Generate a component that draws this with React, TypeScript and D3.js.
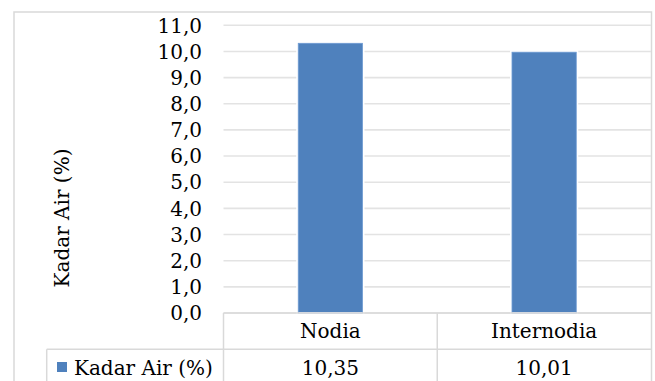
import React from "react";
import * as d3 from "d3";

const categories = ["Nodia", "Internodia"];
const values = [10.35, 10.01];
const valueLabels = ["10,35", "10,01"];
const seriesName = "Kadar Air (%)";
const yTicks = [0, 1, 2, 3, 4, 5, 6, 7, 8, 9, 10, 11];
const yTitle = "Kadar Air (%)";

const W = 655;
const H = 381;
const FONT = "'DejaVu Serif', serif";
const FS = 20;

export default function App() {
  const plotL = 223.5;
  const plotR = 651;
  const y = d3.scaleLinear().domain([0, 11]).range([313, 25.3]);
  const x = d3.scaleBand().domain(categories).range([plotL, plotR]).paddingInner(0.69).paddingOuter(0.345);
  const xc = d3.scaleBand().domain(categories).range([plotL, plotR]);
  const fmt = (v: number) => d3.format(".1f")(v).replace(".", ",");
  const grid = "#d9d9d9";
  const row1 = 313, row2 = 349.3;
  return (
    <svg width={W} height={H} style={{ position: "absolute", left: 0, top: 0, background: "#fff" }}>
      <rect x={14} y={12} width={637.5} height={H + 20} fill="#fff" stroke={grid} strokeWidth={1.5} />
      {yTicks.map((t) => (
        <line key={t} x1={plotL} x2={plotR} y1={y(t)} y2={y(t)} stroke="#e3e3e3" strokeWidth={1.6} />
      ))}
      {categories.map((c, i) => (
        <rect key={c} x={x(c)!} y={y(values[i])} width={x.bandwidth()} height={y(0) - y(values[i])}
          fill="#4f81bd" stroke="#ffffff" strokeWidth={2} />
      ))}
      {categories.map((c, i) => (
        <rect key={c + "i"} x={x(c)! + 1} y={y(values[i]) + 1} width={x.bandwidth() - 2} height={y(0) - y(values[i]) - 1}
          fill="none" stroke="#6e9bd3" strokeWidth={0.8} />
      ))}
      {yTicks.map((t) => (
        <text key={t} x={202} y={y(t)} dy="0.36em" textAnchor="end" fontFamily={FONT} fontSize={FS} fill="#000">{fmt(t)}</text>
      ))}
      <text transform={`translate(69,218) rotate(-90)`} textAnchor="middle" fontFamily={FONT} fontSize={FS} fill="#000">{yTitle}</text>
      {/* data table */}
      <line x1={plotL} x2={plotR} y1={row1} y2={row1} stroke={grid} strokeWidth={1.5} />
      <line x1={46.7} x2={plotR} y1={row2} y2={row2} stroke={grid} strokeWidth={1.5} />
      <line x1={plotL} x2={plotL} y1={row1} y2={H + 5} stroke={grid} strokeWidth={1.5} />
      <line x1={46.7} x2={46.7} y1={row2} y2={H + 5} stroke={grid} strokeWidth={1.5} />
      {categories.slice(1).map((c) => (
        <line key={c} x1={xc(c)!} x2={xc(c)!} y1={row1} y2={H + 5} stroke={grid} strokeWidth={1.5} />
      ))}
      {categories.map((c) => (
        <text key={c} x={xc(c)! + xc.bandwidth() / 2} y={337.5} textAnchor="middle" fontFamily={FONT} fontSize={FS} fill="#000">{c}</text>
      ))}
      {categories.map((c, i) => (
        <text key={c + "v"} x={xc(c)! + xc.bandwidth() / 2} y={375} textAnchor="middle" fontFamily={FONT} fontSize={FS} fill="#000">{valueLabels[i]}</text>
      ))}
      <rect x={57} y={362} width={10} height={10} fill="#4f81bd" />
      <text x={74} y={375} fontFamily={FONT} fontSize={FS} fill="#000">{seriesName}</text>
    </svg>
  );
}
